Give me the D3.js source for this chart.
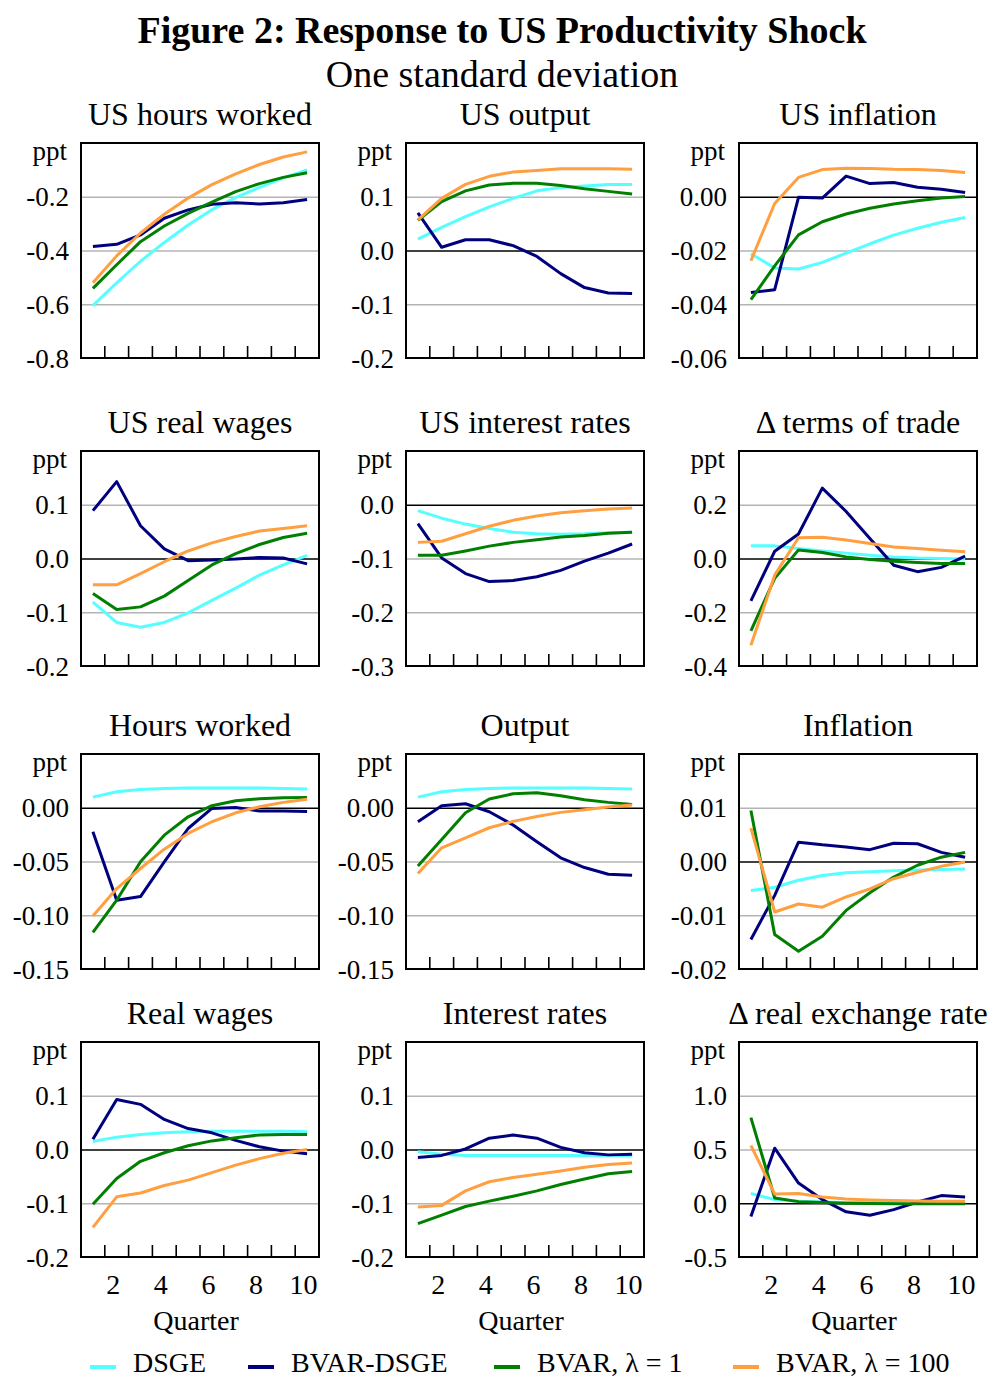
<!DOCTYPE html>
<html>
<head>
<meta charset="utf-8">
<script src="https://cdn.jsdelivr.net/npm/d3@7"></script>
<style>
  html, body { margin: 0; padding: 0; background: #fff; }
  svg { display: block; }
  text { font-family: "Liberation Serif", "Times New Roman", serif; fill: #000; }
</style>
</head>
<body>
<svg id="chart" width="989" height="1379"></svg>
<script>
// ---------------- DATA ----------------
const quarters = [1, 2, 3, 4, 5, 6, 7, 8, 9, 10];
const xTickLabels = [2, 4, 6, 8, 10];
const seriesNames = ["DSGE", "BVAR-DSGE", "BVAR, λ = 1", "BVAR, λ = 100"];
const seriesColors = ["#55ffff", "#00007f", "#007f00", "#ff9f40"];

const panelTitles = [
  "US hours worked", "US output", "US inflation",
  "US real wages", "US interest rates", "Δ terms of trade",
  "Hours worked", "Output", "Inflation",
  "Real wages", "Interest rates", "Δ real exchange rate"
];

const yDomains = [
  [-0.8, 0], [-0.2, 0.2], [-0.06, 0.02],
  [-0.2, 0.2], [-0.3, 0.1], [-0.4, 0.4],
  [-0.15, 0.05], [-0.15, 0.05], [-0.02, 0.02],
  [-0.2, 0.2], [-0.2, 0.2], [-0.5, 1.5]
];
const yTicks = [
  [-0.8, -0.6, -0.4, -0.2], [-0.2, -0.1, 0.0, 0.1], [-0.06, -0.04, -0.02, 0.0],
  [-0.2, -0.1, 0.0, 0.1], [-0.3, -0.2, -0.1, 0.0], [-0.4, -0.2, 0.0, 0.2],
  [-0.15, -0.10, -0.05, 0.0], [-0.15, -0.10, -0.05, 0.0], [-0.02, -0.01, 0.0, 0.01],
  [-0.2, -0.1, 0.0, 0.1], [-0.2, -0.1, 0.0, 0.1], [-0.5, 0.0, 0.5, 1.0]
];
const yFormats = [".1f", ".1f", ".2f", ".1f", ".1f", ".1f", ".2f", ".2f", ".2f", ".1f", ".1f", ".1f"];

// series order in each panel: DSGE, BVAR-DSGE, BVAR λ=1, BVAR λ=100
const usHoursWorked = [
  [-0.605, -0.52, -0.44, -0.37, -0.305, -0.248, -0.203, -0.165, -0.13, -0.10],
  [-0.385, -0.377, -0.342, -0.28, -0.249, -0.228, -0.222, -0.227, -0.222, -0.21],
  [-0.541, -0.453, -0.367, -0.309, -0.262, -0.22, -0.181, -0.151, -0.128, -0.111],
  [-0.52, -0.42, -0.335, -0.265, -0.205, -0.155, -0.115, -0.08, -0.052, -0.033]
];
const usOutput = [
  [0.021, 0.043, 0.063, 0.081, 0.097, 0.111, 0.117, 0.12, 0.123, 0.123],
  [0.070, 0.006, 0.02, 0.02, 0.009, -0.011, -0.043, -0.069, -0.079, -0.08],
  [0.056, 0.091, 0.111, 0.122, 0.125, 0.125, 0.121, 0.115, 0.11, 0.105],
  [0.057, 0.097, 0.123, 0.138, 0.146, 0.149, 0.152, 0.152, 0.152, 0.151]
];
const usInflation = [
  [-0.0212, -0.0265, -0.0269, -0.0244, -0.021, -0.0175, -0.0143, -0.0117, -0.0095, -0.0077],
  [-0.0356, -0.0346, -0.0002, -0.0005, 0.0077, 0.0049, 0.0053, 0.0035, 0.0028, 0.0016],
  [-0.0383, -0.0257, -0.0142, -0.0093, -0.0064, -0.0043, -0.0027, -0.0015, -0.0005, 0.0001],
  [-0.0238, -0.0025, 0.0072, 0.0101, 0.0106, 0.0105, 0.0102, 0.0101, 0.0098, 0.009]
];
const usRealWages = [
  [-0.081, -0.119, -0.128, -0.119, -0.101, -0.078, -0.055, -0.031, -0.012, 0.006],
  [0.089, 0.143, 0.061, 0.018, -0.004, -0.003, -0.001, 0.002, 0.001, -0.010],
  [-0.065, -0.095, -0.09, -0.07, -0.041, -0.012, 0.009, 0.026, 0.039, 0.047],
  [-0.049, -0.049, -0.028, -0.006, 0.014, 0.029, 0.041, 0.051, 0.056, 0.061]
];
const usInterestRates = [
  [-0.011, -0.025, -0.036, -0.044, -0.051, -0.054, -0.055, -0.054, -0.052, -0.051],
  [-0.035, -0.099, -0.128, -0.143, -0.141, -0.134, -0.122, -0.105, -0.09, -0.073],
  [-0.094, -0.094, -0.086, -0.077, -0.07, -0.065, -0.06, -0.057, -0.053, -0.051],
  [-0.070, -0.068, -0.054, -0.04, -0.029, -0.021, -0.015, -0.011, -0.008, -0.006]
];
const termsOfTrade = [
  [0.047, 0.047, 0.037, 0.028, 0.02, 0.012, 0.006, 0.002, 0.0, -0.002],
  [-0.158, 0.027, 0.091, 0.262, 0.175, 0.074, -0.025, -0.049, -0.033, 0.009],
  [-0.269, -0.074, 0.032, 0.022, 0.006, -0.004, -0.01, -0.015, -0.019, -0.019],
  [-0.323, -0.062, 0.077, 0.079, 0.069, 0.056, 0.043, 0.037, 0.031, 0.025]
];
const hoursWorked = [
  [0.0099, 0.0149, 0.017, 0.018, 0.0183, 0.0183, 0.0183, 0.0183, 0.018, 0.0174],
  [-0.0224, -0.086, -0.0826, -0.0503, -0.0193, -0.0006, 0.0003, -0.003, -0.003, -0.0034],
  [-0.116, -0.086, -0.0503, -0.0255, -0.0084, 0.0019, 0.0065, 0.0084, 0.0093, 0.0096],
  [-0.1006, -0.0752, -0.0565, -0.0385, -0.0239, -0.013, -0.0047, 0.0009, 0.005, 0.008]
];
const output = [
  [0.0099, 0.0149, 0.017, 0.018, 0.0183, 0.0183, 0.0183, 0.0183, 0.018, 0.0174],
  [-0.013, 0.0019, 0.0037, -0.0037, -0.0161, -0.0317, -0.0466, -0.0556, -0.0618, -0.0627],
  [-0.0543, -0.0295, -0.0047, 0.0081, 0.013, 0.014, 0.0112, 0.0075, 0.005, 0.0031],
  [-0.0612, -0.0373, -0.028, -0.0186, -0.0127, -0.0081, -0.0043, -0.0019, 0.0006, 0.0025]
];
const inflation = [
  [-0.0054, -0.0048, -0.0035, -0.0026, -0.0021, -0.0019, -0.0017, -0.0016, -0.0015, -0.0014],
  [-0.0145, -0.0063, 0.0036, 0.0031, 0.0027, 0.0022, 0.0034, 0.0033, 0.0017, 0.0008],
  [0.0095, -0.0136, -0.0167, -0.0139, -0.0091, -0.0058, -0.0029, -0.0007, 0.0008, 0.0017],
  [0.0062, -0.0094, -0.0079, -0.0085, -0.0066, -0.0051, -0.0032, -0.002, -0.0009, -0.0001]
];
const realWages = [
  [0.015, 0.023, 0.028, 0.031, 0.033, 0.034, 0.034, 0.034, 0.034, 0.033],
  [0.019, 0.093, 0.084, 0.056, 0.039, 0.031, 0.017, 0.005, -0.003, -0.008],
  [-0.102, -0.054, -0.022, -0.006, 0.007, 0.016, 0.022, 0.027, 0.028, 0.028],
  [-0.145, -0.088, -0.081, -0.067, -0.057, -0.043, -0.029, -0.017, -0.007, 0.0]
];
const interestRates = [
  [-0.004, -0.009, -0.011, -0.011, -0.011, -0.011, -0.011, -0.011, -0.011, -0.011],
  [-0.015, -0.011, 0.001, 0.021, 0.027, 0.021, 0.004, -0.006, -0.010, -0.009],
  [-0.138, -0.122, -0.106, -0.096, -0.087, -0.077, -0.065, -0.055, -0.045, -0.041],
  [-0.107, -0.104, -0.077, -0.06, -0.052, -0.046, -0.04, -0.033, -0.028, -0.025]
];
const realExchangeRate = [
  [0.09, 0.034, 0.019, 0.012, 0.006, 0.006, 0.006, 0.006, 0.006, 0.006],
  [-0.123, 0.512, 0.188, 0.034, -0.08, -0.111, -0.059, 0.012, 0.071, 0.059],
  [0.796, 0.049, 0.015, 0.006, 0.0, -0.003, -0.005, -0.005, -0.005, -0.005],
  [0.537, 0.086, 0.09, 0.059, 0.04, 0.031, 0.025, 0.022, 0.019, 0.019]
];

const panelData = [
  usHoursWorked, usOutput, usInflation,
  usRealWages, usInterestRates, termsOfTrade,
  hoursWorked, output, inflation,
  realWages, interestRates, realExchangeRate
];

// ---------------- LAYOUT ----------------
const colLeft = [81, 406, 739];
const rowTop = [143, 451, 754, 1042];
const panelW = 238, panelH = 215;
const FONT = '"Liberation Serif", "Times New Roman", serif';

const locale = d3.formatLocale({decimal: ".", thousands: ",", grouping: [3], currency: ["$", ""], minus: "-"});

const svg = d3.select("#chart");

svg.append("text")
  .attr("x", 502).attr("y", 43)
  .attr("text-anchor", "middle")
  .style("font-size", "38px").style("font-weight", "bold")
  .text("Figure 2: Response to US Productivity Shock");
svg.append("text")
  .attr("x", 502).attr("y", 87)
  .attr("text-anchor", "middle")
  .style("font-size", "38px")
  .text("One standard deviation");

panelTitles.forEach((title, i) => {
  const r = Math.floor(i / 3), c = i % 3;
  const g = svg.append("g").attr("transform", `translate(${colLeft[c]},${rowTop[r]})`);
  const x = d3.scaleBand().domain(quarters).range([0, panelW]);
  const y = d3.scaleLinear().domain(yDomains[i]).range([panelH, 0]);
  const bw = x.bandwidth();
  const fmt = locale.format(yFormats[i]);

  // title
  g.append("text")
    .attr("x", panelW / 2).attr("y", -18)
    .attr("text-anchor", "middle")
    .style("font-size", "32px")
    .text(title);

  // grid lines
  const grid = g.append("g")
    .call(d3.axisLeft(y).tickValues(yTicks[i].filter(v => v !== yDomains[i][0])).tickSize(-panelW).tickFormat(""));
  grid.select(".domain").remove();
  grid.selectAll(".tick line")
    .attr("stroke", d => Math.abs(d) < 1e-9 ? "#000" : "#b4b4b4")
    .attr("stroke-width", 1.6);

  // y labels
  const ya = g.append("g")
    .call(d3.axisLeft(y).tickValues(yTicks[i]).tickSize(0).tickPadding(12).tickFormat(fmt));
  ya.select(".domain").remove();
  ya.selectAll("text")
    .style("font-family", FONT).style("font-size", "27px").attr("fill", "#000")
    .attr("dy", "0.34em");

  g.append("text")
    .attr("x", -14).attr("y", 17)
    .attr("text-anchor", "end")
    .style("font-size", "27px")
    .text("ppt");

  // bottom tick marks at band boundaries
  g.append("g").selectAll("line")
    .data(quarters.slice(1))
    .join("line")
    .attr("x1", d => x(d)).attr("x2", d => x(d))
    .attr("y1", panelH).attr("y2", panelH - 12)
    .attr("stroke", "#000").attr("stroke-width", 1.6);

  // series
  const line = d3.line()
    .x((v, k) => x(quarters[k]) + bw / 2)
    .y(v => y(v));
  panelData[i].forEach((vals, s) => {
    g.append("path")
      .attr("d", line(vals))
      .attr("fill", "none")
      .attr("stroke", seriesColors[s])
      .attr("stroke-width", 3)
      .attr("stroke-linejoin", "round");
  });

  // frame
  g.append("rect")
    .attr("x", 0).attr("y", 0).attr("width", panelW).attr("height", panelH)
    .attr("fill", "none").attr("stroke", "#000").attr("stroke-width", 2);

  // x-axis labels on bottom row
  if (r === 3) {
    const xa = g.append("g").attr("transform", `translate(-3.5,${panelH})`)
      .call(d3.axisBottom(x).tickValues(xTickLabels).tickSize(0).tickPadding(17));
    xa.select(".domain").remove();
    xa.selectAll("text")
      .style("font-family", FONT).style("font-size", "28px").attr("fill", "#000");
    g.append("text")
      .attr("x", panelW / 2 - 4).attr("y", panelH + 73)
      .attr("text-anchor", "middle")
      .style("font-size", "28px")
      .text("Quarter");
  }
});

// legend
const legendX = [90, 248, 494, 733];
const leg = svg.append("g");
seriesNames.forEach((name, s) => {
  leg.append("line")
    .attr("x1", legendX[s]).attr("x2", legendX[s] + 26)
    .attr("y1", 1367).attr("y2", 1367)
    .attr("stroke", seriesColors[s]).attr("stroke-width", 4);
  leg.append("text")
    .attr("x", legendX[s] + 43).attr("y", 1372)
    .style("font-size", "28px")
    .text(name);
});
</script>
</body>
</html>
